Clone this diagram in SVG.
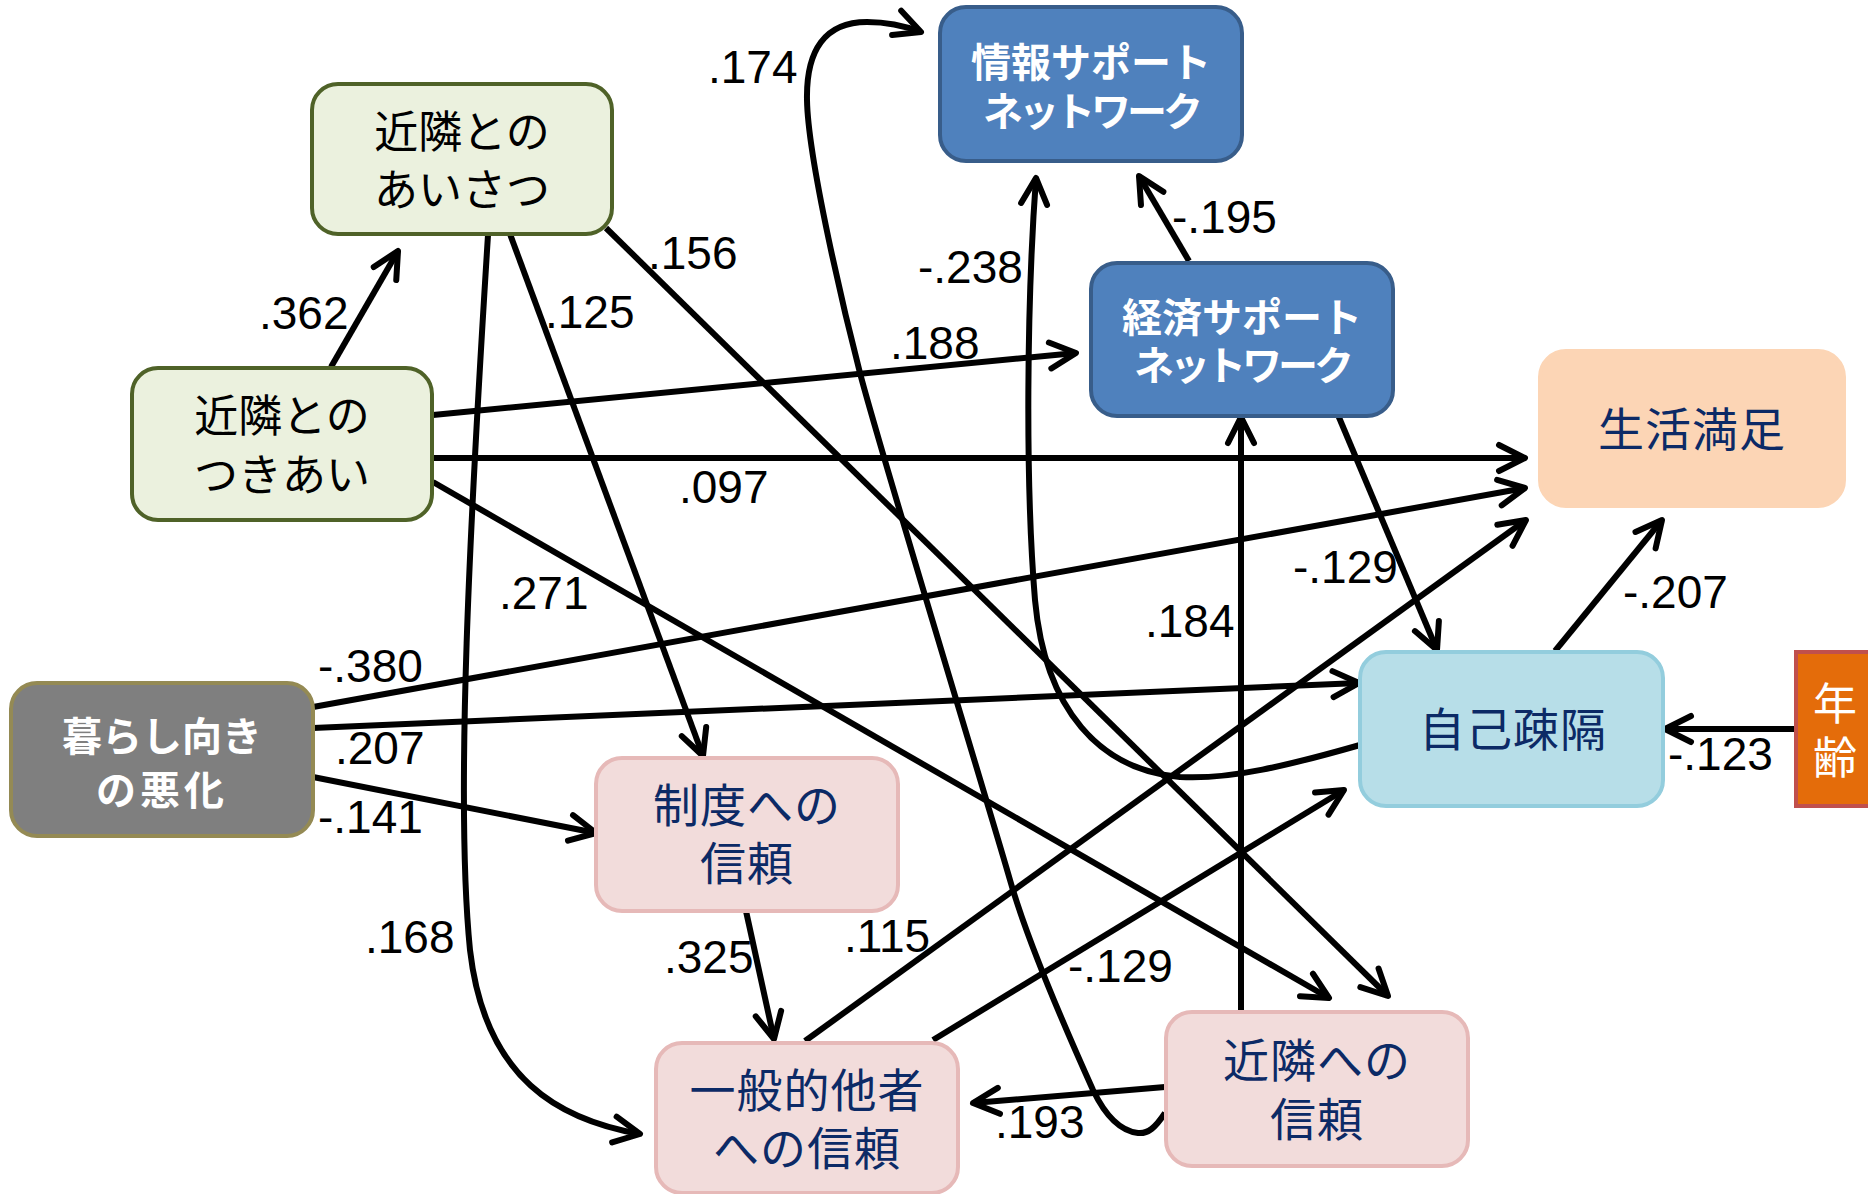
<svg xmlns="http://www.w3.org/2000/svg" width="1868" height="1194" viewBox="0 0 1868 1194">
<defs>
<style>
.box{stroke-width:4}
.green{fill:#EBF1DE;stroke:#4F6228}
.blue{fill:#4F81BD;stroke:#385D8A}
.peach{fill:#FCD5B5;stroke:#FCD5B5}
.gray{fill:#7F7F7F;stroke:#948A54}
.pink{fill:#F2DCDB;stroke:#E6B9B8}
.lblue{fill:#B7DEE8;stroke:#93CDDD}
.orange{fill:#E46C0A;stroke:#C0504D}
.jp{font-family:"Noto Sans CJK JP","Noto Sans CJK SC",sans-serif;text-anchor:middle}
.blk{fill:#000;font-size:44px}
.wb{fill:#fff;font-weight:bold;font-size:40px}
.nv{fill:#0C2A66;font-size:46px;letter-spacing:1px}
.e{fill:none;stroke:#000;stroke-width:6;marker-end:url(#ah)}
.lb{font-family:"Liberation Sans",Arial,sans-serif;font-size:46px;fill:#000}
</style>
<marker id="ah" markerUnits="userSpaceOnUse" markerWidth="40" markerHeight="40" viewBox="-34 -20 40 40" refX="0" refY="0" orient="auto" overflow="visible">
<path d="M -26 -13 L 0 0 L -26 13" fill="none" stroke="#000" stroke-width="6" stroke-linecap="round" stroke-linejoin="round"/>
</marker>
</defs>
<rect width="1868" height="1194" fill="#fff"/>

<g id="connectors">
<path class="e" d="M 331 367 L 398 251"/>
<path class="e" d="M 488 235 C 470 520, 455 800, 470 950 C 485 1080, 560 1120, 640 1134"/>
<path class="e" d="M 510 234 L 703 756"/>
<path class="e" d="M 606 228 L 1388 996"/>
<path class="e" d="M 433 415 L 1076 353"/>
<path class="e" d="M 433 458 L 1525 458"/>
<path class="e" d="M 433 482 L 1329 998"/>
<path class="e" d="M 313 707 L 1525 488"/>
<path class="e" d="M 313 728 L 1359 683"/>
<path class="e" d="M 313 777 L 596 833"/>
<path class="e" d="M 746 911 L 774 1039"/>
<path class="e" d="M 805 1041 L 1526 520"/>
<path class="e" d="M 933 1040 L 1344 790"/>
<path class="e" d="M 1165 1087 L 973 1103"/>
<path class="e" d="M 1241 1012 L 1241 417"/>
<path class="e" d="M 1189 261 L 1139 176"/>
<path class="e" d="M 1338 415 L 1437 650"/>
<path class="e" d="M 1555 651 L 1662 520"/>
<path class="e" d="M 1797 729 L 1665 729"/>
<path class="e" d="M 1165 1113 C 1155 1128, 1148 1134, 1138 1133 C 1120 1131, 1105 1115, 1093 1090 C 1075 1050, 1030 950, 1010 880 C 990 810, 880 450, 860 373 C 845 315, 808 160, 807 100 C 806 50, 825 22, 867 22 C 887 22, 905 26, 921 32"/>
<path class="e" d="M 1360 745 C 1290 765, 1230 780, 1180 777 C 1100 770, 1045 710, 1035 600 C 1025 480, 1027 300, 1036 178"/>
</g>

<g id="labels" class="lb">
<text x="708" y="83">.174</text>
<text x="648" y="269">.156</text>
<text x="545" y="328">.125</text>
<text x="259" y="329">.362</text>
<text x="890" y="359">.188</text>
<text x="918" y="283">-.238</text>
<text x="1172" y="233">-.195</text>
<text x="679" y="503">.097</text>
<text x="499" y="609">.271</text>
<text x="318" y="682">-.380</text>
<text x="335" y="764">.207</text>
<text x="318" y="833">-.141</text>
<text x="365" y="953">.168</text>
<text x="664" y="973">.325</text>
<text x="844" y="952">.115</text>
<text x="1068" y="982">-.129</text>
<text x="995" y="1138">.193</text>
<text x="1145" y="637">.184</text>
<text x="1293" y="583">-.129</text>
<text x="1623" y="608">-.207</text>
<text x="1668" y="770">-.123</text>
</g>

<g id="node-aisatsu">
<rect class="box green" x="312" y="84" width="300" height="150" rx="26"/>
<text class="jp blk"><tspan x="462" y="148">近隣との</tspan><tspan x="462" y="206">あいさつ</tspan></text>
</g>
<g id="node-tsukiai">
<rect class="box green" x="132" y="368" width="300" height="152" rx="26"/>
<text class="jp blk"><tspan x="282" y="432">近隣との</tspan><tspan x="282" y="491">つきあい</tspan></text>
</g>
<g id="node-joho">
<rect class="box blue" x="940" y="7" width="302" height="154" rx="26"/>
<text class="jp wb"><tspan x="1091" y="77">情報サポート</tspan><tspan x="1091" y="126" letter-spacing="-4">ネットワーク</tspan></text>
</g>
<g id="node-keizai">
<rect class="box blue" x="1091" y="263" width="302" height="153" rx="26"/>
<text class="jp wb"><tspan x="1242" y="332">経済サポート</tspan><tspan x="1242" y="380" letter-spacing="-4">ネットワーク</tspan></text>
</g>
<g id="node-seikatsu">
<rect class="box peach" x="1540" y="351" width="304" height="155" rx="26"/>
<text class="jp nv" x="1692" y="446">生活満足</text>
</g>
<g id="node-kurashi">
<rect class="box gray" x="11" y="683" width="302" height="153" rx="26"/>
<text class="jp wb" font-size="42"><tspan x="162" y="751">暮らし向き</tspan><tspan x="162" y="805" letter-spacing="4">の悪化</tspan></text>
</g>
<g id="node-seido">
<rect class="box pink" x="596" y="758" width="302" height="153" rx="26"/>
<text class="jp nv"><tspan x="747" y="822">制度への</tspan><tspan x="747" y="880">信頼</tspan></text>
</g>
<g id="node-ippan">
<rect class="box pink" x="656" y="1043" width="302" height="150" rx="26"/>
<text class="jp nv"><tspan x="807" y="1107">一般的他者</tspan><tspan x="807" y="1165">への信頼</tspan></text>
</g>
<g id="node-jiko">
<rect class="box lblue" x="1360" y="652" width="303" height="154" rx="26"/>
<text class="jp nv" x="1513" y="746">自己疎隔</text>
</g>
<g id="node-nenrei">
<rect class="box orange" x="1796" y="652" width="84" height="154"/>
<text class="jp" fill="#fff" font-size="44"><tspan x="1835" y="720">年</tspan><tspan x="1835" y="774">齢</tspan></text>
</g>
<g id="node-kinrin">
<rect class="box pink" x="1166" y="1012" width="302" height="154" rx="26"/>
<text class="jp nv"><tspan x="1317" y="1077">近隣への</tspan><tspan x="1317" y="1136">信頼</tspan></text>
</g>
</svg>
